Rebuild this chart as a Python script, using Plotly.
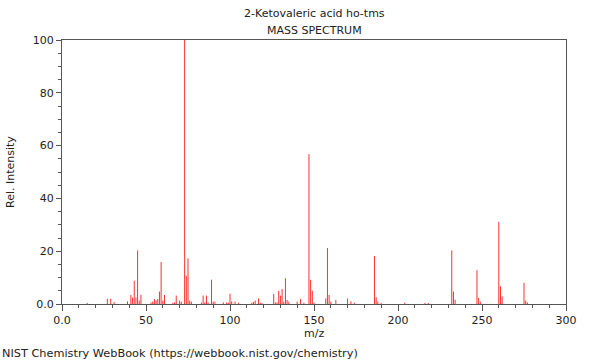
import plotly.graph_objects as go

mz = [15, 27, 29, 31, 39, 41, 42, 43, 44, 45, 46, 47, 53, 54, 55, 56, 57, 58, 59, 60,
      61, 66, 67, 68, 70, 71, 73, 74, 75, 76, 77, 83, 84, 85, 86, 87, 89, 90, 91, 96,
      98, 99, 100, 101, 103, 105, 113, 114, 115, 117, 118, 119, 126, 127, 128, 129, 130,
      131, 132, 133, 134, 135, 140, 142, 144, 147, 148, 149, 150, 157, 158, 159, 160,
      163, 170, 172, 174, 186, 187, 188, 190, 204, 216, 218, 232, 233, 234, 247, 248,
      249, 260, 261, 262, 275, 276, 277]
intensity = [0.4, 2.0, 2.0, 0.8, 1.0, 3.4, 2.4, 8.8, 2.5, 20.3, 1.3, 3.5, 0.6, 0.9, 1.9,
             1.3, 1.9, 4.7, 15.9, 1.3, 3.4, 0.5, 0.6, 3.2, 1.3, 0.9, 100, 10.7, 17.3, 1.3,
             0.9, 0.5, 3.2, 0.6, 3.2, 0.5, 9.2, 0.9, 0.9, 0.6, 0.6, 0.5, 3.9, 1.0, 0.9, 0.5,
             0.5, 0.8, 1.3, 2.1, 0.5, 0.4, 3.8, 0.6, 0.6, 5.0, 3.2, 5.7, 0.9, 9.7, 1.5, 0.9,
             0.9, 1.9, 0.5, 56.8, 9.2, 5.0, 0.5, 2.1, 21.2, 3.4, 0.9, 1.5, 2.1, 1.0, 0.5,
             18.2, 2.5, 0.9, 0.4, 0.5, 0.4, 0.4, 20.3, 4.7, 1.6, 12.8, 2.3, 0.9, 31.1, 6.7,
             2.8, 8.0, 1.3, 0.6]

x_ticks = [0, 50, 100, 150, 200, 250, 300]
x_tick_labels = ["0.0", "50", "100", "150", "200", "250", "300"]
y_ticks = [0, 20, 40, 60, 80, 100]
y_tick_labels = ["0.0", "20", "40", "60", "80", "100"]

title_main = "2-Ketovaleric acid ho-tms"
title_sub = "MASS SPECTRUM"
footer = "NIST Chemistry WebBook (https://webbook.nist.gov/chemistry)"

xs, ys = [], []
for m, v in zip(mz, intensity):
    xs += [m, m, None]
    ys += [0, v, None]

FONT = "DejaVu Sans"
fig = go.Figure()
fig.add_trace(go.Scatter(x=xs, y=ys, mode="lines",
                         line=dict(color="#ff3030", width=1),
                         hoverinfo="skip", showlegend=False))

axis_common = dict(showline=True, linecolor="#555555", linewidth=1, mirror=True,
                   showgrid=False, zeroline=False, ticks="outside", tickcolor="#555555",
                   tickfont=dict(family=FONT, size=11, color="#222222"))

fig.update_layout(
    width=600, height=360,
    margin=dict(l=62, r=34, t=40, b=56),
    paper_bgcolor="white", plot_bgcolor="white",
    font=dict(family=FONT, size=11, color="#222222"),
    xaxis=dict(range=[0, 300], tickvals=x_ticks, ticktext=x_tick_labels, ticklen=6,
               minor=dict(dtick=10, ticklen=3, ticks="outside", tickcolor="#555555"),
               **axis_common),
    yaxis=dict(range=[0, 100], tickvals=y_ticks, ticktext=y_tick_labels, ticklen=5,
               minor=dict(dtick=5, ticklen=3, ticks="outside", tickcolor="#555555"),
               **axis_common),
    annotations=[
        dict(text=title_main, xref="paper", yref="paper", x=0.5, y=1, yshift=27,
             xanchor="center", yanchor="middle", showarrow=False,
             font=dict(family=FONT, size=11)),
        dict(text=title_sub, xref="paper", yref="paper", x=0.5, y=1, yshift=10,
             xanchor="center", yanchor="middle", showarrow=False,
             font=dict(family=FONT, size=11)),
        dict(text="m/z", xref="paper", yref="paper", x=0.5, y=0, yshift=-29,
             xanchor="center", yanchor="middle", showarrow=False,
             font=dict(family=FONT, size=11)),
        dict(text="Rel. Intensity", xref="paper", yref="paper", x=0, xshift=-52, y=0.5,
             xanchor="center", yanchor="middle", textangle=-90, showarrow=False,
             font=dict(family=FONT, size=11)),
        dict(text=footer, xref="paper", yref="paper", x=0, xshift=-62, y=0, yshift=-49,
             xanchor="left", yanchor="middle", showarrow=False,
             font=dict(family=FONT, size=11.3)),
    ],
)

fig.write_html("out.html", config={"displayModeBar": False},
               post_script="document.body.style.margin='0';document.body.style.overflow='hidden';")
